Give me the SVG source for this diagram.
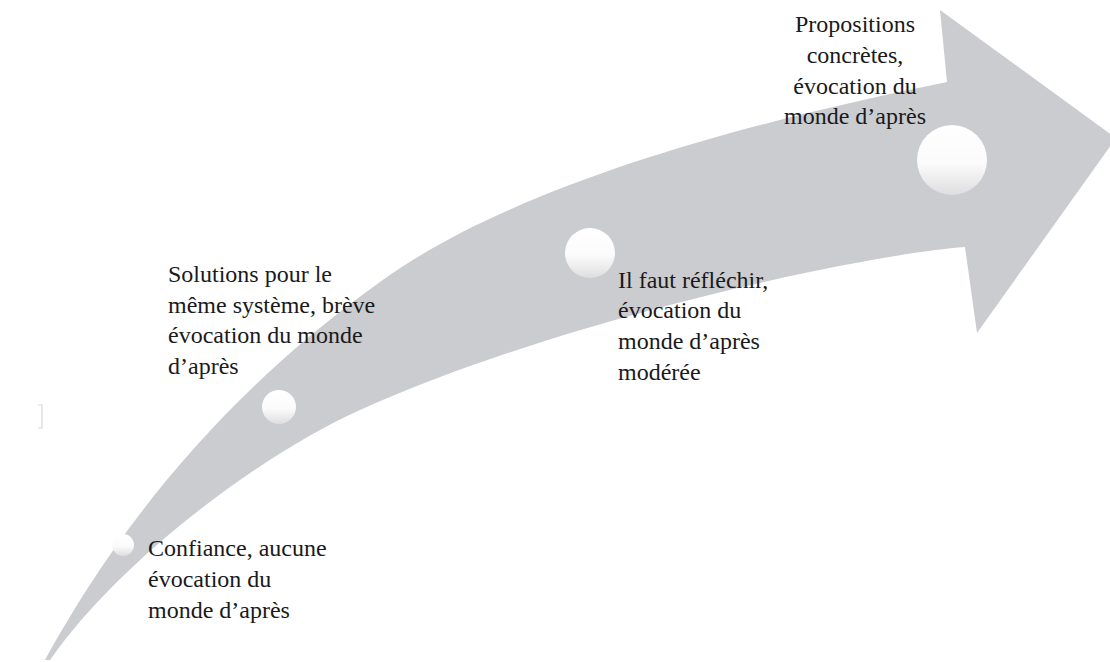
<svg xmlns="http://www.w3.org/2000/svg" width="1110" height="662" viewBox="0 0 1110 662">
<defs>
<linearGradient id="ball" x1="0" y1="0" x2="0" y2="1">
<stop offset="0" stop-color="#ffffff"/>
<stop offset="0.55" stop-color="#fbfbfb"/>
<stop offset="1" stop-color="#dedee0"/>
</linearGradient>
<style>
.lbl{font-family:"Liberation Serif","Times New Roman",serif;font-size:24px;fill:#1a1a1a}
.ball{fill:url(#ball)}
</style>
</defs>
<rect width="1110" height="662" fill="#ffffff"/>
<g id="arrow">
<path d="M45,660 C100,560 200,410 380,282 C520,180 770,118 947,82 L940,10 L1116,138 L977,333 L965,247 C860,255 560,320 360,410 C260,455 120,560 50,660 Z" fill="#cbccd0"/>
</g>
<path d="M38,405 L42,405 L42,428 L38,428" fill="none" stroke="#d8d8d8" stroke-width="1.2"/>
<g id="step1">
<circle class="ball" cx="123" cy="545" r="11"/>
<text class="lbl" x="148"><tspan x="148" y="556">Confiance, aucune</tspan><tspan x="148" y="587">évocation du</tspan><tspan x="148" y="618">monde d’après</tspan></text>
</g>
<g id="step2">
<circle class="ball" cx="279" cy="407" r="17"/>
<text class="lbl"><tspan x="168" y="282">Solutions pour le</tspan><tspan x="168" y="313">même système, brève</tspan><tspan x="168" y="343">évocation du monde</tspan><tspan x="168" y="374">d’après</tspan></text>
</g>
<g id="step3">
<circle class="ball" cx="590" cy="253" r="25"/>
<text class="lbl"><tspan x="618" y="288">Il faut réfléchir,</tspan><tspan x="618" y="318">évocation du</tspan><tspan x="618" y="349">monde d’après</tspan><tspan x="618" y="380">modérée</tspan></text>
</g>
<g id="step4">
<circle class="ball" cx="952" cy="160" r="35"/>
<text class="lbl" text-anchor="middle"><tspan x="855" y="32">Propositions</tspan><tspan x="855" y="63">concrètes,</tspan><tspan x="855" y="94">évocation du</tspan><tspan x="855" y="124">monde d’après</tspan></text>
</g>
</svg>
